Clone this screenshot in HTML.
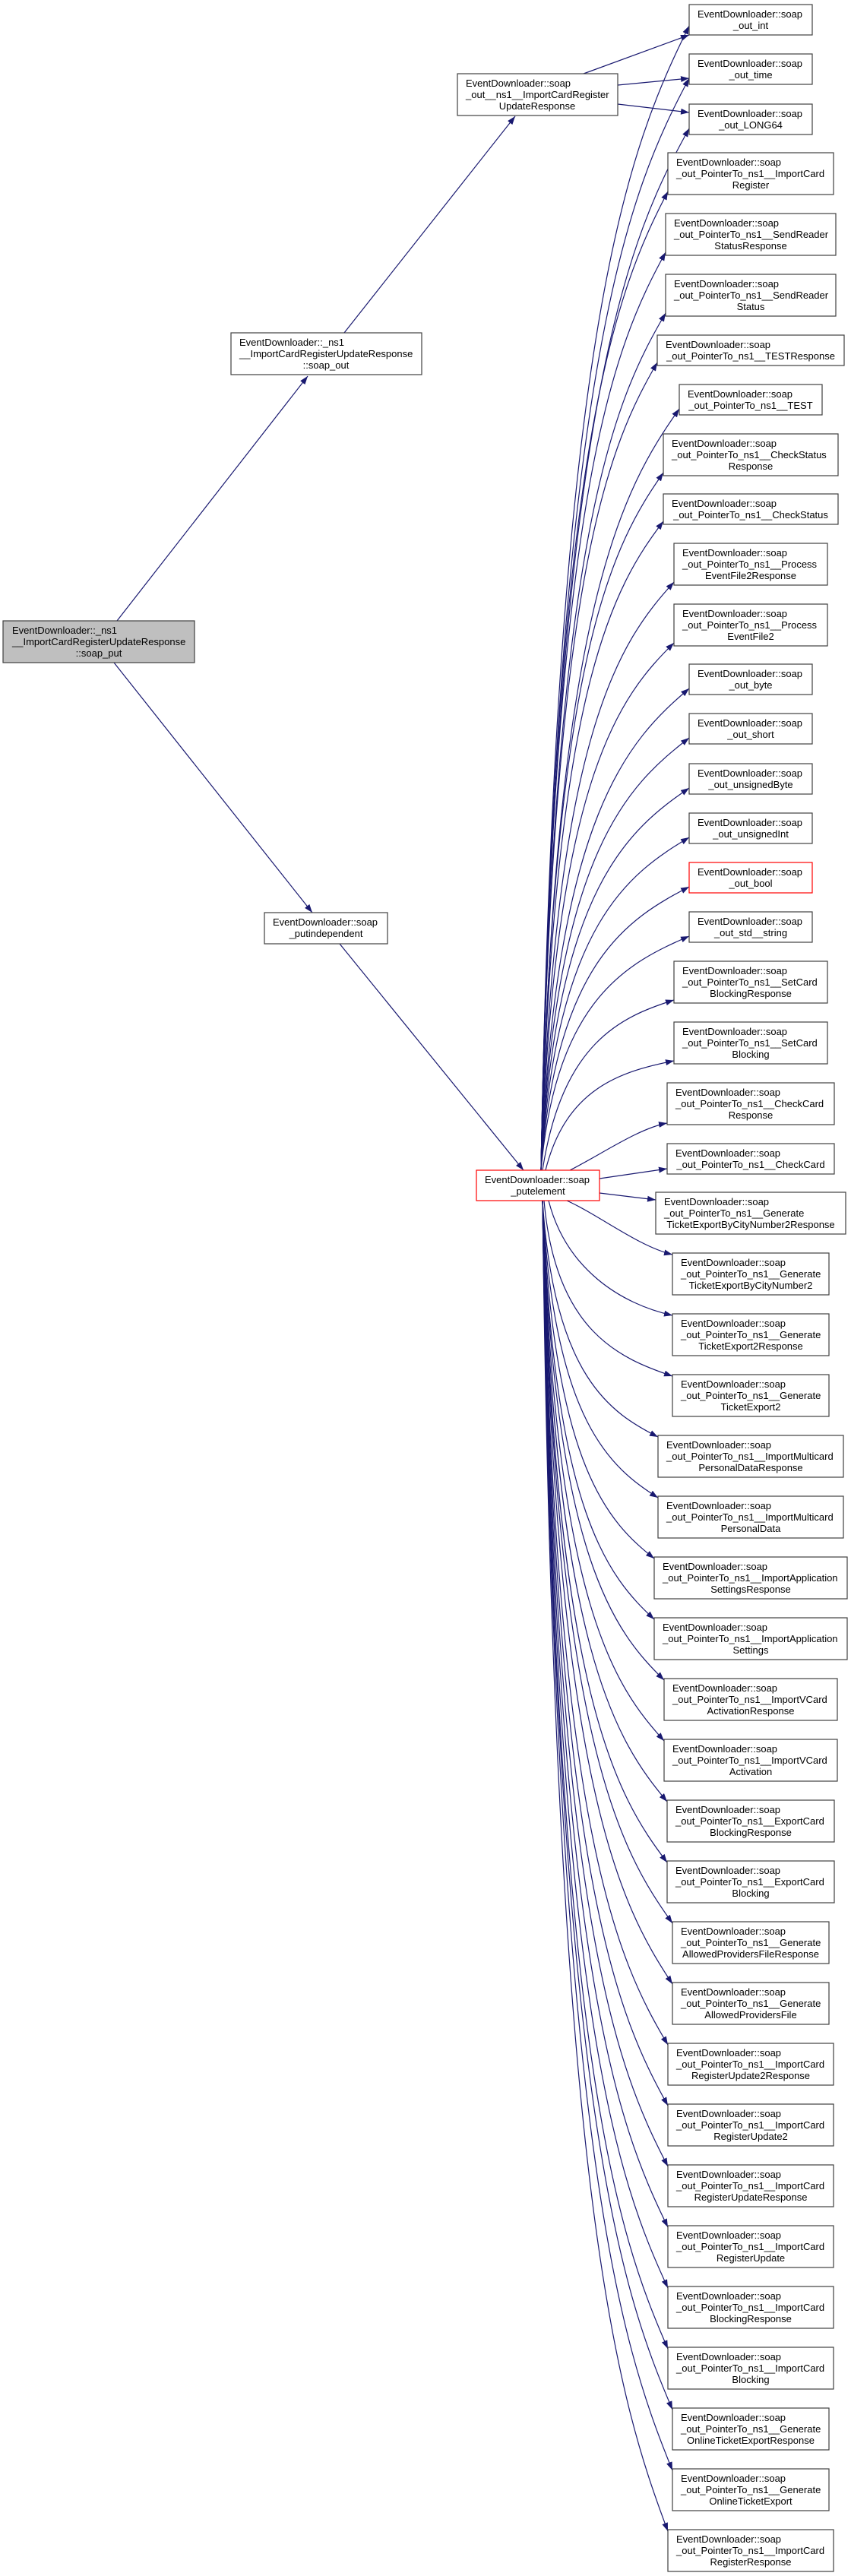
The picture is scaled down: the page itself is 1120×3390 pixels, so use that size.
<!DOCTYPE html>
<html><head><meta charset="utf-8"><style>
html,body{margin:0;padding:0;background:#fff;}
svg{display:block;}
text{font-family:"Liberation Sans",Arial,sans-serif;font-size:13px;fill:#000;}
.b{fill:#fff;stroke:#404040;stroke-width:1.2;}
.r{fill:#fff;stroke:#ff0000;stroke-width:1.2;}
.e{fill:none;stroke:#191970;stroke-width:1.2;}
.c{text-anchor:middle;}
</style></head><body>
<svg width="1120" height="3390" viewBox="0 0 1120 3390" xmlns="http://www.w3.org/2000/svg">
<defs><marker id="a" markerWidth="11" markerHeight="8" refX="11" refY="4" orient="auto" markerUnits="userSpaceOnUse"><path d="M0,0 L11,4 L0,8 z" fill="#191970"/></marker></defs>

<!-- left edges -->
<path class="e" marker-end="url(#a)" d="M154,817 L405,495"/>
<path class="e" marker-end="url(#a)" d="M150,872 L411,1201"/>
<path class="e" marker-end="url(#a)" d="M453,438 L678,153"/>
<path class="e" marker-end="url(#a)" d="M447,1242 L689,1540"/>
<path class="e" marker-end="url(#a)" d="M768,97 L907,46"/>
<path class="e" marker-end="url(#a)" d="M813,112 L907,103"/>
<path class="e" marker-end="url(#a)" d="M813,137 L907,148"/>

<!-- up edges -->
<path class="e" marker-end="url(#a)" d="M712,1540 C732,416 829,192 907,34"/>
<path class="e" marker-end="url(#a)" d="M712,1540 C732,465 829,250 907,103"/>
<path class="e" marker-end="url(#a)" d="M712,1540 C732,515 829,310 907,169"/>
<path class="e" marker-end="url(#a)" d="M712,1540 C729,574 812,381 879,252"/>
<path class="e" marker-end="url(#a)" d="M712,1540 C728,634 810,453 876,332"/>
<path class="e" marker-end="url(#a)" d="M712,1540 C728,694 810,525 876,412"/>
<path class="e" marker-end="url(#a)" d="M712,1540 C727,743 804,583 865,477"/>
<path class="e" marker-end="url(#a)" d="M712,1540 C730,792 821,642 894,538"/>
<path class="e" marker-end="url(#a)" d="M712,1540 C728,852 809,714 873,622"/>
<path class="e" marker-end="url(#a)" d="M712,1540 C728,900 809,771 873,686"/>
<path class="e" marker-end="url(#a)" d="M712,1540 C730,960 817,843 887,766"/>
<path class="e" marker-end="url(#a)" d="M712,1540 C730,1020 817,915 887,846"/>
<path class="e" marker-end="url(#a)" d="M712,1540 C732,1067 829,973 907,906"/>
<path class="e" marker-end="url(#a)" d="M712,1540 C732,1116 829,1032 907,971"/>
<path class="e" marker-end="url(#a)" d="M712,1540 C732,1166 829,1091 907,1037"/>
<path class="e" marker-end="url(#a)" d="M712,1540 C732,1214 829,1149 907,1102"/>
<path class="e" marker-end="url(#a)" d="M712,1540 C732,1263 829,1208 907,1167"/>
<path class="e" marker-end="url(#a)" d="M712,1540 C732,1312 829,1266 907,1232"/>
<path class="e" marker-end="url(#a)" d="M714,1540 C740,1372 817,1338 887,1316"/>
<path class="e" marker-end="url(#a)" d="M718,1540 C745,1432 817,1410 887,1396"/>
<path class="e" marker-end="url(#a)" d="M750,1540 C790,1520 840,1485 878,1478"/>
<path class="e" marker-end="url(#a)" d="M789,1551 L878,1538"/>
<path class="e" marker-end="url(#a)" d="M789,1570 L863,1579"/>

<!-- down edges -->
<path class="e" marker-end="url(#a)" d="M746,1580 C790,1600 840,1640 885,1651"/>
<path class="e" marker-end="url(#a)" d="M722,1580 C745,1670 817,1716 885,1731"/>
<path class="e" marker-end="url(#a)" d="M716,1580 C731,1753 817,1788 885,1811"/>
<path class="e" marker-end="url(#a)" d="M714,1580 C729,1813 805,1860 866,1891"/>
<path class="e" marker-end="url(#a)" d="M714,1580 C729,1873 805,1932 866,1971"/>
<path class="e" marker-end="url(#a)" d="M714,1580 C729,1933 802,2004 861,2051"/>
<path class="e" marker-end="url(#a)" d="M714,1580 C729,1993 802,2076 861,2131"/>
<path class="e" marker-end="url(#a)" d="M714,1580 C730,2053 810,2148 874,2211"/>
<path class="e" marker-end="url(#a)" d="M714,1580 C730,2113 810,2220 874,2291"/>
<path class="e" marker-end="url(#a)" d="M714,1580 C730,2173 812,2292 878,2371"/>
<path class="e" marker-end="url(#a)" d="M714,1580 C730,2233 812,2364 878,2451"/>
<path class="e" marker-end="url(#a)" d="M714,1580 C731,2293 817,2436 885,2531"/>
<path class="e" marker-end="url(#a)" d="M714,1580 C731,2353 817,2508 885,2611"/>
<path class="e" marker-end="url(#a)" d="M714,1580 C730,2413 813,2580 879,2691"/>
<path class="e" marker-end="url(#a)" d="M714,1580 C730,2473 813,2652 879,2771"/>
<path class="e" marker-end="url(#a)" d="M714,1580 C730,2533 813,2724 879,2851"/>
<path class="e" marker-end="url(#a)" d="M714,1580 C730,2593 813,2796 879,2931"/>
<path class="e" marker-end="url(#a)" d="M714,1580 C730,2653 813,2868 879,3011"/>
<path class="e" marker-end="url(#a)" d="M714,1580 C730,2713 813,2940 879,3091"/>
<path class="e" marker-end="url(#a)" d="M714,1580 C731,2773 817,3012 885,3171"/>
<path class="e" marker-end="url(#a)" d="M714,1580 C731,2833 817,3084 885,3251"/>
<path class="e" marker-end="url(#a)" d="M714,1580 C730,2893 813,3156 879,3331"/>

<!-- left nodes -->
<rect x="4" y="817" width="252" height="55" fill="#bfbfbf" stroke="#404040" stroke-width="1.2"/>
<text x="16" y="834">EventDownloader::_ns1</text><text x="16" y="849">__ImportCardRegisterUpdateResponse</text><text class="c" x="130" y="864">::soap_put</text>

<rect class="b" x="304" y="438" width="251" height="55"/>
<text x="315" y="455">EventDownloader::_ns1</text><text x="315" y="470">__ImportCardRegisterUpdateResponse</text><text class="c" x="429" y="485">::soap_out</text>

<rect class="b" x="602" y="97" width="211" height="55"/>
<text x="613" y="114">EventDownloader::soap</text><text x="613" y="129">_out__ns1__ImportCardRegister</text><text class="c" x="707" y="144">UpdateResponse</text>

<rect class="b" x="348" y="1201" width="162" height="41"/>
<text x="359" y="1218">EventDownloader::soap</text><text class="c" x="429" y="1233">_putindependent</text>

<rect class="r" x="627" y="1540" width="162" height="40"/>
<text x="638" y="1557">EventDownloader::soap</text><text class="c" x="708" y="1572">_putelement</text>

<!-- right nodes -->
<rect class="b" x="907" y="6" width="162" height="40"/><text x="918" y="23">EventDownloader::soap</text><text class="c" x="988" y="38">_out_int</text>
<rect class="b" x="907" y="71" width="162" height="40"/><text x="918" y="88">EventDownloader::soap</text><text class="c" x="988" y="103">_out_time</text>
<rect class="b" x="907" y="137" width="162" height="40"/><text x="918" y="154">EventDownloader::soap</text><text class="c" x="988" y="169">_out_LONG64</text>
<rect class="b" x="879" y="201" width="218" height="55"/><text x="890" y="218">EventDownloader::soap</text><text x="890" y="233">_out_PointerTo_ns1__ImportCard</text><text class="c" x="988" y="248">Register</text>
<rect class="b" x="876" y="281" width="224" height="55"/><text x="887" y="298">EventDownloader::soap</text><text x="887" y="313">_out_PointerTo_ns1__SendReader</text><text class="c" x="988" y="328">StatusResponse</text>
<rect class="b" x="876" y="361" width="224" height="55"/><text x="887" y="378">EventDownloader::soap</text><text x="887" y="393">_out_PointerTo_ns1__SendReader</text><text class="c" x="988" y="408">Status</text>
<rect class="b" x="865" y="441" width="246" height="40"/><text x="876" y="458">EventDownloader::soap</text><text class="c" x="988" y="473">_out_PointerTo_ns1__TESTResponse</text>
<rect class="b" x="894" y="506" width="188" height="40"/><text x="905" y="523">EventDownloader::soap</text><text class="c" x="988" y="538">_out_PointerTo_ns1__TEST</text>
<rect class="b" x="873" y="571" width="230" height="55"/><text x="884" y="588">EventDownloader::soap</text><text x="884" y="603">_out_PointerTo_ns1__CheckStatus</text><text class="c" x="988" y="618">Response</text>
<rect class="b" x="873" y="650" width="230" height="40"/><text x="884" y="667">EventDownloader::soap</text><text class="c" x="988" y="682">_out_PointerTo_ns1__CheckStatus</text>
<rect class="b" x="887" y="715" width="202" height="55"/><text x="898" y="732">EventDownloader::soap</text><text x="898" y="747">_out_PointerTo_ns1__Process</text><text class="c" x="988" y="762">EventFile2Response</text>
<rect class="b" x="887" y="795" width="202" height="55"/><text x="898" y="812">EventDownloader::soap</text><text x="898" y="827">_out_PointerTo_ns1__Process</text><text class="c" x="988" y="842">EventFile2</text>
<rect class="b" x="907" y="874" width="162" height="40"/><text x="918" y="891">EventDownloader::soap</text><text class="c" x="988" y="906">_out_byte</text>
<rect class="b" x="907" y="939" width="162" height="40"/><text x="918" y="956">EventDownloader::soap</text><text class="c" x="988" y="971">_out_short</text>
<rect class="b" x="907" y="1005" width="162" height="40"/><text x="918" y="1022">EventDownloader::soap</text><text class="c" x="988" y="1037">_out_unsignedByte</text>
<rect class="b" x="907" y="1070" width="162" height="40"/><text x="918" y="1087">EventDownloader::soap</text><text class="c" x="988" y="1102">_out_unsignedInt</text>
<rect class="r" x="907" y="1135" width="162" height="40"/><text x="918" y="1152">EventDownloader::soap</text><text class="c" x="988" y="1167">_out_bool</text>
<rect class="b" x="907" y="1200" width="162" height="40"/><text x="918" y="1217">EventDownloader::soap</text><text class="c" x="988" y="1232">_out_std__string</text>
<rect class="b" x="887" y="1265" width="202" height="55"/><text x="898" y="1282">EventDownloader::soap</text><text x="898" y="1297">_out_PointerTo_ns1__SetCard</text><text class="c" x="988" y="1312">BlockingResponse</text>
<rect class="b" x="887" y="1345" width="202" height="55"/><text x="898" y="1362">EventDownloader::soap</text><text x="898" y="1377">_out_PointerTo_ns1__SetCard</text><text class="c" x="988" y="1392">Blocking</text>
<rect class="b" x="878" y="1425" width="220" height="55"/><text x="889" y="1442">EventDownloader::soap</text><text x="889" y="1457">_out_PointerTo_ns1__CheckCard</text><text class="c" x="988" y="1472">Response</text>
<rect class="b" x="878" y="1505" width="220" height="40"/><text x="889" y="1522">EventDownloader::soap</text><text class="c" x="988" y="1537">_out_PointerTo_ns1__CheckCard</text>
<rect class="b" x="863" y="1569" width="250" height="55"/><text x="874" y="1586">EventDownloader::soap</text><text x="874" y="1601">_out_PointerTo_ns1__Generate</text><text class="c" x="988" y="1616">TicketExportByCityNumber2Response</text>
<rect class="b" x="885" y="1649" width="206" height="55"/><text x="896" y="1666">EventDownloader::soap</text><text x="896" y="1681">_out_PointerTo_ns1__Generate</text><text class="c" x="988" y="1696">TicketExportByCityNumber2</text>
<rect class="b" x="885" y="1729" width="206" height="55"/><text x="896" y="1746">EventDownloader::soap</text><text x="896" y="1761">_out_PointerTo_ns1__Generate</text><text class="c" x="988" y="1776">TicketExport2Response</text>
<rect class="b" x="885" y="1809" width="206" height="55"/><text x="896" y="1826">EventDownloader::soap</text><text x="896" y="1841">_out_PointerTo_ns1__Generate</text><text class="c" x="988" y="1856">TicketExport2</text>
<rect class="b" x="866" y="1889" width="244" height="55"/><text x="877" y="1906">EventDownloader::soap</text><text x="877" y="1921">_out_PointerTo_ns1__ImportMulticard</text><text class="c" x="988" y="1936">PersonalDataResponse</text>
<rect class="b" x="866" y="1969" width="244" height="55"/><text x="877" y="1986">EventDownloader::soap</text><text x="877" y="2001">_out_PointerTo_ns1__ImportMulticard</text><text class="c" x="988" y="2016">PersonalData</text>
<rect class="b" x="861" y="2049" width="254" height="55"/><text x="872" y="2066">EventDownloader::soap</text><text x="872" y="2081">_out_PointerTo_ns1__ImportApplication</text><text class="c" x="988" y="2096">SettingsResponse</text>
<rect class="b" x="861" y="2129" width="254" height="55"/><text x="872" y="2146">EventDownloader::soap</text><text x="872" y="2161">_out_PointerTo_ns1__ImportApplication</text><text class="c" x="988" y="2176">Settings</text>
<rect class="b" x="874" y="2209" width="228" height="55"/><text x="885" y="2226">EventDownloader::soap</text><text x="885" y="2241">_out_PointerTo_ns1__ImportVCard</text><text class="c" x="988" y="2256">ActivationResponse</text>
<rect class="b" x="874" y="2289" width="228" height="55"/><text x="885" y="2306">EventDownloader::soap</text><text x="885" y="2321">_out_PointerTo_ns1__ImportVCard</text><text class="c" x="988" y="2336">Activation</text>
<rect class="b" x="878" y="2369" width="220" height="55"/><text x="889" y="2386">EventDownloader::soap</text><text x="889" y="2401">_out_PointerTo_ns1__ExportCard</text><text class="c" x="988" y="2416">BlockingResponse</text>
<rect class="b" x="878" y="2449" width="220" height="55"/><text x="889" y="2466">EventDownloader::soap</text><text x="889" y="2481">_out_PointerTo_ns1__ExportCard</text><text class="c" x="988" y="2496">Blocking</text>
<rect class="b" x="885" y="2529" width="206" height="55"/><text x="896" y="2546">EventDownloader::soap</text><text x="896" y="2561">_out_PointerTo_ns1__Generate</text><text class="c" x="988" y="2576">AllowedProvidersFileResponse</text>
<rect class="b" x="885" y="2609" width="206" height="55"/><text x="896" y="2626">EventDownloader::soap</text><text x="896" y="2641">_out_PointerTo_ns1__Generate</text><text class="c" x="988" y="2656">AllowedProvidersFile</text>
<rect class="b" x="879" y="2689" width="218" height="55"/><text x="890" y="2706">EventDownloader::soap</text><text x="890" y="2721">_out_PointerTo_ns1__ImportCard</text><text class="c" x="988" y="2736">RegisterUpdate2Response</text>
<rect class="b" x="879" y="2769" width="218" height="55"/><text x="890" y="2786">EventDownloader::soap</text><text x="890" y="2801">_out_PointerTo_ns1__ImportCard</text><text class="c" x="988" y="2816">RegisterUpdate2</text>
<rect class="b" x="879" y="2849" width="218" height="55"/><text x="890" y="2866">EventDownloader::soap</text><text x="890" y="2881">_out_PointerTo_ns1__ImportCard</text><text class="c" x="988" y="2896">RegisterUpdateResponse</text>
<rect class="b" x="879" y="2929" width="218" height="55"/><text x="890" y="2946">EventDownloader::soap</text><text x="890" y="2961">_out_PointerTo_ns1__ImportCard</text><text class="c" x="988" y="2976">RegisterUpdate</text>
<rect class="b" x="879" y="3009" width="218" height="55"/><text x="890" y="3026">EventDownloader::soap</text><text x="890" y="3041">_out_PointerTo_ns1__ImportCard</text><text class="c" x="988" y="3056">BlockingResponse</text>
<rect class="b" x="879" y="3089" width="218" height="55"/><text x="890" y="3106">EventDownloader::soap</text><text x="890" y="3121">_out_PointerTo_ns1__ImportCard</text><text class="c" x="988" y="3136">Blocking</text>
<rect class="b" x="885" y="3169" width="206" height="55"/><text x="896" y="3186">EventDownloader::soap</text><text x="896" y="3201">_out_PointerTo_ns1__Generate</text><text class="c" x="988" y="3216">OnlineTicketExportResponse</text>
<rect class="b" x="885" y="3249" width="206" height="55"/><text x="896" y="3266">EventDownloader::soap</text><text x="896" y="3281">_out_PointerTo_ns1__Generate</text><text class="c" x="988" y="3296">OnlineTicketExport</text>
<rect class="b" x="879" y="3329" width="218" height="55"/><text x="890" y="3346">EventDownloader::soap</text><text x="890" y="3361">_out_PointerTo_ns1__ImportCard</text><text class="c" x="988" y="3376">RegisterResponse</text>
</svg>
</body></html>
